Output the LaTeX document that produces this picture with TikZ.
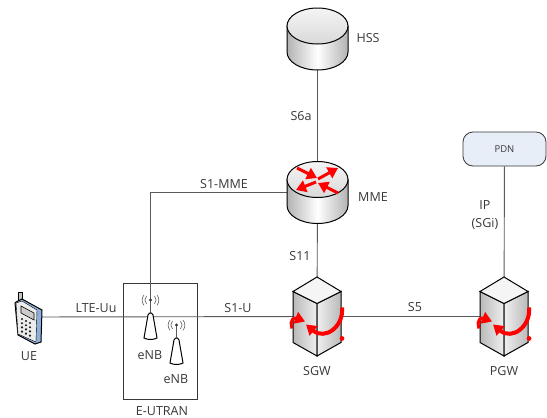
\documentclass[tikz,border=0pt]{standalone}
\usepackage{fontspec}
\setmainfont{Open Sans}
\usepackage{xcolor}
\usetikzlibrary{arrows.meta}
\definecolor{linkgray}{HTML}{5A5A5A}
\definecolor{textgray}{HTML}{383838}
\definecolor{pdnblue}{HTML}{E8EEF8}
\definecolor{phoneblue}{HTML}{8FB0DC}
\tikzset{
  link/.style={draw=linkgray,line width=0.9pt},
  hold/.style={inner sep=0pt,minimum width=#1},
  lbl/.style={text=textgray,font=\fontsize{12.5}{18}\selectfont,inner sep=0pt,align=center},
  redarrow/.style={draw=red,line width=3pt,-{Triangle[length=10pt,width=12pt]}},
  pics/cyl/.style={code={
    \draw[line width=1pt,left color=gray!60,right color=gray!60,middle color=white]
      (-30.5,-13) -- (-30.5,13) arc[start angle=180,end angle=360,x radius=30.5pt,y radius=18pt] -- (30.5,-13) -- cycle;
    \draw[line width=1pt,top color=gray!8,bottom color=gray!30] (0,-13) ellipse[x radius=30.5pt,y radius=18pt];
  }},
  pics/srv/.style={code={
    \draw[line width=1pt,left color=gray!55,right color=gray!12] (-24,-25) -- (0,-13) -- (0,39.5) -- (-24,26) -- cycle;
    \draw[line width=1pt,left color=gray!12,right color=gray!55] (24,-25) -- (0,-13) -- (0,39.5) -- (24,26) -- cycle;
    \draw[line width=1pt,fill=gray!8] (0,-39.5) -- (24,-25) -- (0,-13) -- (-24,-25) -- cycle;
    \draw[redarrow] (-25,12) .. controls (-28,2) and (-22,1) .. (-12,5);
    \draw[redarrow,line width=4pt] (25,-9) .. controls (27,10) and (8,24) .. (-11,8);
    \fill[red] (25,22) circle (2.4pt);
  }},
  pics/tower/.style={code={
    \draw[linkgray,line width=0.8pt] (0,0) -- (0,14);
    \fill[textgray] (0,0) circle (1.6pt);
    \draw[textgray!80,line width=0.6pt] (-4,-4) arc[start angle=135,end angle=225,radius=5.6pt];
    \draw[textgray!80,line width=0.6pt] (-6.5,-5) arc[start angle=140,end angle=220,radius=8pt];
    \draw[textgray!80,line width=0.6pt] (4,-4) arc[start angle=45,end angle=-45,radius=5.6pt];
    \draw[textgray!80,line width=0.6pt] (6.5,-5) arc[start angle=40,end angle=-40,radius=8pt];
    \draw[line width=1pt,fill=white] (-6.5,38) -- (-2.5,15) -- (-1,13) -- (1,13) -- (2.5,15) -- (6.5,38)
      .. controls (3,40) and (-3,40) .. (-6.5,38) -- cycle;
  }},
  pics/phone/.style={code={
    \draw[line width=1pt,fill=gray!45] (-10,-15) -- (-10,-25) -- (-6,-25) -- (-6,-15) -- cycle;
    \draw[line width=1pt,fill=phoneblue] (-12,-15) -- (-6,-18) -- (14,-7) -- (13,25) -- (7,27) -- (-10,18) -- (-13,-14) -- cycle;
    \draw[line width=0.4pt,fill=gray!15] (-12,-14) -- (-6,-16) -- (9,-7) -- (8,25) -- (-10,17) -- cycle;
    \draw[line width=0.6pt,fill=gray!40] (-7,-11) -- (6,-4) -- (6,3) -- (-7,-4) -- cycle;
    \foreach \i in {0,1,2}
      \foreach \j in {0,1,2,3}
        \fill[gray!20!black] (-6+\i*4,2+\j*4.2+\i*2) circle (1.2pt);
  }},
}
\begin{document}
\begin{tikzpicture}[x=1pt,y=-1pt]
  \useasboundingbox (0,0) rectangle (547,418);
  \fill[white] (0,0) rectangle (547,418);

  \node[hold=61pt,minimum height=62pt] (hss) at (317.5,39) {};
  \node[hold=61pt,minimum height=61pt] (mme) at (317.5,192.5) {};
  \node[hold=48pt,minimum height=79pt] (sgw) at (317,316.5) {};
  \node[hold=48pt,minimum height=79pt] (pgw) at (504,316.5) {};
  \node[hold=28pt,minimum height=54pt] (ue) at (28,317) {};
  \node[inner sep=0pt] (enba) at (150.5,300) {};
  \node[inner sep=0pt] (enbb) at (176.5,325) {};
  \node[draw=textgray,line width=0.9pt,inner sep=0pt,minimum width=74pt,minimum height=116pt] (eutran) at (160,341) {};
  \node[draw=textgray,line width=0.8pt,fill=pdnblue,rounded corners=10pt,inner sep=0pt,
    minimum width=83pt,minimum height=34pt,text=textgray,font=\fontsize{9.5}{11}\selectfont] (pdn) at (504.5,149) {PDN};

  \draw[link] (hss) -- (mme);
  \draw[link] (mme) -- (sgw);
  \draw[link] (mme.west) -| (enba);
  \draw[link] (ue) -- (sgw);
  \draw[link] (sgw) -- (pgw);
  \draw[link] (pdn) -- (pgw);

  \pic at (hss) {cyl};
  \pic at (mme) {cyl};
  \pic at (sgw) {srv};
  \pic at (pgw) {srv};
  \pic at (ue) {phone};
  \pic at (enba) {tower};
  \pic at (enbb) {tower};

  % arrows on the router top
  \draw[redarrow] (297,168) -- (317,178);
  \draw[redarrow] (318,179) -- (338,168);
  \draw[redarrow] (316,182) -- (296,190);
  \draw[redarrow] (338,193) -- (318,183);

  \node[lbl] (hsslbl) at (368,38) {HSS};
  \node[lbl] (s6a) at (301,116) {S6a};
  \node[lbl] (mmelbl) at (373,197) {MME};
  \node[lbl] (s1mme) at (224,184) {S1-MME};
  \node[lbl] (s11) at (300,256) {S11};
  \node[lbl] (ip) at (485,215) {IP\\(SGi)};
  \node[lbl] (lteuu) at (96,308) {LTE-Uu};
  \node[lbl] (s1u) at (238,308) {S1-U};
  \node[lbl] (s5) at (415,307) {S5};
  \node[lbl] (uelbl) at (29,356) {UE};
  \node[lbl] (enbalbl) at (150,355) {eNB};
  \node[lbl] (enbblbl) at (176,379) {eNB};
  \node[lbl] (eutranlbl) at (162,411) {E-UTRAN};
  \node[lbl] (sgwlbl) at (317,371) {SGW};
  \node[lbl] (pgwlbl) at (504,371) {PGW};
\end{tikzpicture}
\end{document}
